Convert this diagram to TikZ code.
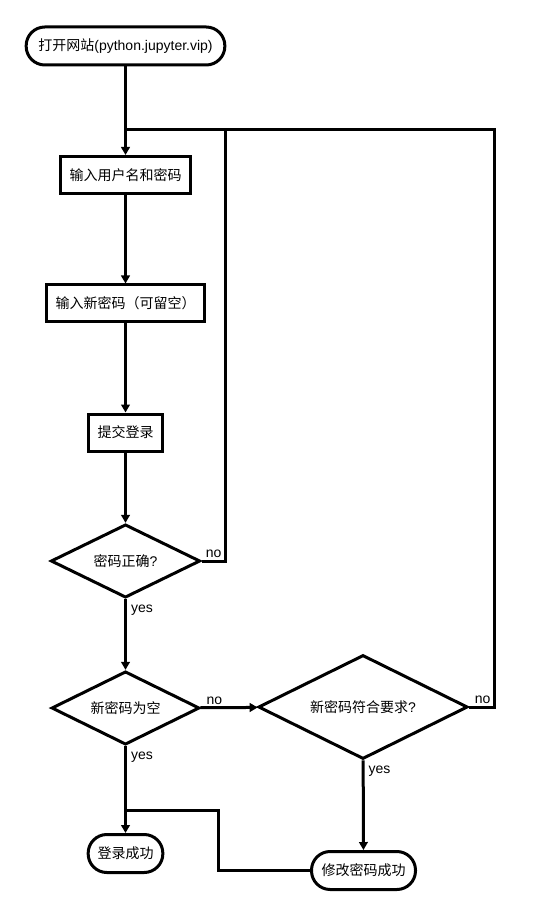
\documentclass[tikz,border=0pt]{standalone}
\usepackage{fontspec}
\setmainfont{Liberation Sans}
\newfontfamily\cjk{Noto Sans CJK SC}
\usepackage{tikz}
\usetikzlibrary{shapes.geometric,arrows.meta}

\begin{document}
\begin{tikzpicture}[x=0.75pt,y=-0.75pt,
  font=\fontsize{10.5}{12}\selectfont,
  wire/.style={line width=2.25pt},
  arrow/.style={line width=2.25pt,-{Triangle[length=6pt,width=6.5pt]}},
  terminal/.style={draw,line width=2.25pt,rounded corners=14pt,inner sep=0pt,minimum height=28.5pt},
  stepbox/.style={draw,line width=2.25pt,inner sep=0pt,minimum height=27.75pt},
  decision/.style={draw,diamond,aspect=2,line width=2.25pt,inner sep=0pt},
  lbl/.style={inner sep=1pt}]
  \useasboundingbox (0,0) rectangle (542,912);
  \node[terminal,minimum width=149pt] (start) at (125.5,46) {{\cjk 打开网站}(python.jupyter.vip)};
  \node[stepbox,minimum width=98pt] (account) at (125.5,175) {\cjk 输入用户名和密码};
  \node[stepbox,minimum width=119pt] (newpwd) at (125.5,303.5) {\cjk 输入新密码（可留空）};
  \node[stepbox,minimum width=56pt] (submit) at (125.5,432.5) {\cjk 提交登录};
  \node[decision,minimum width=112pt,minimum height=55pt] (checkpwd) at (125.5,561) {{\cjk 密码正确}?};
  \node[decision,minimum width=111pt,minimum height=55pt] (isempty) at (125.5,708) {\cjk 新密码为空};
  \node[decision,minimum width=157pt,minimum height=78pt] (isvalid) at (363,707) {{\cjk 新密码符合要求}?};
  \node[terminal,minimum width=56pt] (loginok) at (125.5,853.5) {\cjk 登录成功};
  \node[terminal,minimum width=78pt] (changeok) at (363.5,870.5) {\cjk 修改密码成功};
  \coordinate (join) at (125,130);
  \coordinate (loopA) at (225,130);
  \coordinate (loopB) at (494,130);
  \coordinate (merge) at (125,810);
  \coordinate (bend) at (218,810);
  \draw[arrow] (start) -- (account);
  \draw[arrow] (account) -- (newpwd);
  \draw[arrow] (newpwd) -- (submit);
  \draw[arrow] (submit) -- (checkpwd);
  \draw[arrow] (checkpwd) -- (isempty);
  \draw[arrow] (isempty) -- (isvalid);
  \draw[arrow] (isempty) -- (loginok);
  \draw[arrow] (isvalid) -- (changeok);
  \draw[wire] (checkpwd.east) -| (loopA) -- (join);
  \draw[wire] (isvalid.east) -| (loopB) -- (loopA);
  \draw[wire] (changeok.west) -| (bend) -- (merge);
  \node[lbl,anchor=south west] (no1) at ([xshift=2pt,yshift=1pt]checkpwd.east) {no};
  \node[lbl,anchor=north west] (yes1) at ([xshift=3pt,yshift=-3.5pt]checkpwd.south) {yes};
  \node[lbl,anchor=south west] (no2) at ([xshift=3pt,yshift=1pt]isempty.east) {no};
  \node[lbl,anchor=north west] (yes2) at ([xshift=3pt,yshift=-3pt]isempty.south) {yes};
  \node[lbl,anchor=south west] (no3) at ([xshift=3pt,yshift=1pt]isvalid.east) {no};
  \node[lbl,anchor=north west] (yes3) at ([xshift=3pt,yshift=-3pt]isvalid.south) {yes};
\end{tikzpicture}
\end{document}
